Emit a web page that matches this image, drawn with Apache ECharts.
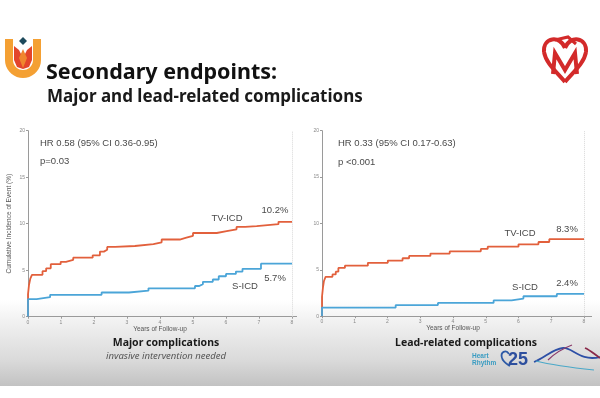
<!DOCTYPE html>
<html><head><meta charset="utf-8">
<script src="https://cdn.jsdelivr.net/npm/echarts@6/dist/echarts.min.js"></script>
<style>html,body{margin:0;padding:0;background:#fff}#c{width:600px;height:398px}</style>
</head><body><div id="c"></div>
<script>
// ---- data ----
var xTicks = [0,1,2,3,4,5,6,7,8];
var yTicks = [0,5,10,15,20];
// Major complications (left panel)
var majorTvT = [0, 0, 0.03, 0.07, 0.12, 0.44, 0.55, 0.69, 0.99, 1.15, 1.37, 1.96, 2.18, 2.3, 2.4, 2.64, 3.24, 3.8, 4.05, 4.6, 4.8, 5.0, 5.72, 6.02, 6.32, 6.58, 6.93, 7.59, 8.0];
var majorTvV = [0, 2.4, 3.4, 4.1, 4.5, 4.9, 5.2, 5.65, 5.9, 6.1, 6.35, 6.6, 7.0, 7.2, 7.5, 7.6, 7.8, 8.0, 8.3, 8.5, 8.7, 9.0, 9.2, 9.4, 9.65, 9.75, 9.95, 10.2, 10.2];
var majorST = [0, 0, 0.26, 0.67, 2.23, 3.06, 3.65, 5.06, 5.19, 5.3, 5.6, 5.78, 6.0, 6.3, 6.5, 7.06, 8.0];
var majorSV = [0, 1.9, 2.1, 2.35, 2.6, 2.8, 3.05, 3.3, 3.5, 3.75, 4.0, 4.35, 4.6, 4.85, 5.15, 5.7, 5.7];
// Lead-related complications (right panel)
var leadTvT = [0, 0, 0.03, 0.06, 0.11, 0.32, 0.42, 0.5, 0.7, 1.4, 2.01, 2.46, 2.66, 3.31, 3.9, 4.85, 5.06, 6.0, 6.61, 6.94, 8.0];
var leadTvV = [0, 2.1, 3.1, 3.8, 4.25, 4.5, 4.8, 5.2, 5.45, 5.75, 6.0, 6.25, 6.5, 6.75, 7.0, 7.25, 7.5, 7.75, 8.0, 8.3, 8.3];
var leadST = [0, 0, 2.25, 3.54, 5.24, 5.79, 6.15, 7.17, 8.0];
var leadSV = [0, 0.93, 1.2, 1.43, 1.7, 1.9, 2.15, 2.4, 2.4];
// texts
var mainTitle = 'Secondary endpoints:';
var subTitle = 'Major and lead-related complications';
var leftStats = ['HR 0.58 (95% CI 0.36-0.95)', 'p=0.03'];
var rightStats = ['HR 0.33 (95% CI 0.17-0.63)', 'p <0.001'];
var leftEnd = ['10.2%', '5.7%'];
var rightEnd = ['8.3%', '2.4%'];
var groupNames = ['TV-ICD', 'S-ICD'];
var panelTitles = ['Major complications', 'Lead-related complications'];
var leftNote = 'invasive intervention needed';
var yName = 'Cumulative Incidence of Event (%)';
var xName = 'Years of Follow-up';

function zip(a, b){ return a.map(function(t,i){ return [t, b[i]]; }); }

var ORANGE = '#e2603c', BLUE = '#4ba5d8', AX = '#9a9a9a';
var F = 'Liberation Sans, Arial, sans-serif';
var TF = 'Noto Sans, Open Sans, sans-serif';

function xAx(idx){
  return {gridIndex: idx, type:'value', min:0, max:8, interval:1,
    name: xName, nameLocation:'middle', nameGap: 9,
    nameTextStyle:{fontSize:6.5, color:'#555', fontFamily:F},
    axisLine:{show:true, lineStyle:{color:AX, width:1}},
    axisTick:{show:true, length:2, lineStyle:{color:AX}},
    axisLabel:{fontSize:5, color:'#888', margin:3, fontFamily:F},
    splitLine:{show:false}};
}
function yAx(idx, named){
  return {gridIndex: idx, type:'value', min:0, max:20, interval:5,
    name: named ? yName : '', nameLocation:'middle', nameGap: 15,
    nameTextStyle:{fontSize:6.5, color:'#555', fontFamily:F},
    axisLine:{show:true, lineStyle:{color:AX, width:1}},
    axisTick:{show:true, length:2, lineStyle:{color:AX}},
    axisLabel:{fontSize:5, color:'#888', margin:3, fontFamily:F},
    splitLine:{show:false}};
}
function ln(name, data, color, idx, mark){
  var s = {name:name, type:'line', step:'end', xAxisIndex:idx, yAxisIndex:idx,
    data:data, showSymbol:false, symbol:'none', lineStyle:{color:color, width:1.8},
    itemStyle:{color:color}, animation:false, z:3};
  if (mark) s.markLine = {silent:true, symbol:'none', label:{show:false},
    lineStyle:{color:'#d8d8d8', type:'dotted', width:1}, data:[{xAxis:8}]};
  return s;
}
function txt(t, x, y, size, opts){
  opts = opts || {};
  return {type:'text', z:10, style:{text:t, x:x, y:y, fill: opts.fill || '#4a4a4a',
    font: (opts.italic?'italic ':'') + (opts.weight||'normal') + ' ' + size + 'px ' + (opts.family||F),
    textAlign: opts.align||'left', textVerticalAlign:'middle'}};
}
function bez(p, color, w){
  return {type:'bezierCurve', z:10, shape:{x1:p[0], y1:p[1], cpx1:p[2], cpy1:p[3], cpx2:p[4], cpy2:p[5], x2:p[6], y2:p[7]},
    style:{fill:'none', stroke:color, lineWidth:w}};
}
// U-shaped logo outline as polygon points
function uShape(cx, cy, rOut, rIn, top){
  var pts = [[cx - rOut, top]], i, a;
  for (i = 0; i <= 18; i++){ a = Math.PI - i * Math.PI / 18; pts.push([cx + rOut * Math.cos(a), cy + rOut * Math.sin(a)]); }
  pts.push([cx + rOut, top]); pts.push([cx + rIn, top]);
  for (i = 0; i <= 18; i++){ a = i * Math.PI / 18; pts.push([cx + rIn * Math.cos(a), cy + rIn * Math.sin(a)]); }
  pts.push([cx - rIn, top]);
  return pts;
}

var graphics = [
  // bottom gradient band
  {type:'rect', z:-10, shape:{x:0, y:300, width:600, height:86},
   style:{fill:{type:'linear', x:0, y:0, x2:0, y2:1, colorStops:[
     {offset:0, color:'#ffffff'}, {offset:0.25, color:'#f1f1f1'},
     {offset:0.7, color:'#dadada'}, {offset:1, color:'#c2c2c2'}]}}},
  // axis line extensions past 8
  {type:'line', z:5, shape:{x1:292, y1:316.5, x2:297, y2:316.5}, style:{stroke:AX, lineWidth:1}},
  {type:'line', z:5, shape:{x1:584, y1:316.5, x2:592, y2:316.5}, style:{stroke:AX, lineWidth:1}},
  // titles
  txt(mainTitle, 46, 73, 21.5, {weight:'bold', fill:'#111', family:TF}),
  txt(subTitle, 47, 97, 17, {weight:'bold', fill:'#1a1a1a', family:TF}),
  // left annotations
  txt(leftStats[0], 40, 143, 9.5),
  txt(leftStats[1], 40, 161, 9.5),
  txt(groupNames[0], 227, 218, 9.5, {align:'center'}),
  txt(leftEnd[0], 275, 210, 9.5, {align:'center'}),
  txt(leftEnd[1], 275, 278, 9.5, {align:'center'}),
  txt(groupNames[1], 245, 286, 9.5, {align:'center'}),
  // right annotations
  txt(rightStats[0], 338, 143, 9.5),
  txt(rightStats[1], 338, 162, 9.5),
  txt(groupNames[0], 520, 233, 9.5, {align:'center'}),
  txt(rightEnd[0], 567, 229, 9.5, {align:'center'}),
  txt(groupNames[1], 525, 287, 9.5, {align:'center'}),
  txt(rightEnd[1], 567, 283, 9.5, {align:'center'}),
  // panel captions
  txt(panelTitles[0], 166, 343, 10.5, {weight:'bold', fill:'#1a1a1a', align:'center', family:TF}),
  txt(leftNote, 166, 356, 9.5, {italic:true, fill:'#555', align:'center', family:TF}),
  txt(panelTitles[1], 466, 343, 10.5, {weight:'bold', fill:'#1a1a1a', align:'center', family:TF}),
  // left logo
  {type:'polygon', z:10, shape:{points: uShape(23, 60, 18, 10, 39)}, style:{fill:'#f4a033'}},
  {type:'polygon', z:11, shape:{points:[[14,46],[19,50],[23,58],[27,50],[32,46],[32,60],[29,67],[23,69],[17,67],[14,60]]}, style:{fill:'#e3452b'}},
  {type:'polygon', z:11, shape:{points:[[19,58],[23,49],[27,58],[23,68]]}, style:{fill:'#f0862e'}},
  {type:'polygon', z:11, shape:{points:[[23,37],[27,41],[23,45],[19,41]]}, style:{fill:'#1e4a5c'}},
  // right logo
  bez([565,48, 560,35, 543,37, 544,52], '#d32a2a', 4),
  bez([544,52, 546,64, 558,73, 565,82], '#d32a2a', 4),
  bez([565,48, 570,35, 587,37, 586,52], '#d32a2a', 4),
  bez([586,52, 584,64, 572,73, 565,82], '#d32a2a', 4),
  {type:'polyline', z:11, shape:{points:[[553,74],[555,53],[565,70],[575,53],[577,74]]}, style:{fill:'none', stroke:'#d32a2a', lineWidth:4}},
  {type:'polyline', z:11, shape:{points:[[555,40],[568,37],[576,44]]}, style:{fill:'none', stroke:'#d32a2a', lineWidth:3}},
  // Heart Rhythm logo
  txt('Heart', 472, 356, 6.5, {fill:'#3a9cc2', weight:'bold'}),
  txt('Rhythm', 472, 363.5, 6.5, {fill:'#3a9cc2', weight:'bold'}),
  bez([509,354, 506,349, 500,352, 502,358], '#2d5aa6', 1.8),
  bez([502,358, 503,362, 507,364, 510,366], '#2d5aa6', 1.8),
  txt('25', 508, 360, 18, {fill:'#2d4f9e', weight:'bold'}),
  bez([534,362, 545,358, 552,349, 563,348], '#2d4fa6', 1.8),
  bez([563,348, 572,347, 580,362, 600,357], '#2d4fa6', 1.8),
  bez([536,361, 552,365, 566,367, 594,370], '#4aa8c8', 1.2),
  bez([548,360, 556,352, 564,348, 572,345], '#8a3a6a', 1.2),
  bez([585,348, 590,350, 594,354, 600,358], '#8a2a4a', 1.8)
];

var chart = echarts.init(document.getElementById('c'), null, {renderer:'canvas'});
chart.setOption({
  backgroundColor:'#ffffff',
  animation:false,
  grid:[
    {left:28, top:130.7, width:264, height:186},
    {left:322, top:130.7, width:262, height:185.5}
  ],
  xAxis:[xAx(0), xAx(1)],
  yAxis:[yAx(0, true), yAx(1, false)],
  series:[
    ln('TV-ICD', zip(majorTvT, majorTvV), ORANGE, 0, true),
    ln('S-ICD', zip(majorST, majorSV), BLUE, 0, false),
    ln('TV-ICD', zip(leadTvT, leadTvV), ORANGE, 1, true),
    ln('S-ICD', zip(leadST, leadSV), BLUE, 1, false)
  ],
  graphic: graphics
});
</script></body></html>
